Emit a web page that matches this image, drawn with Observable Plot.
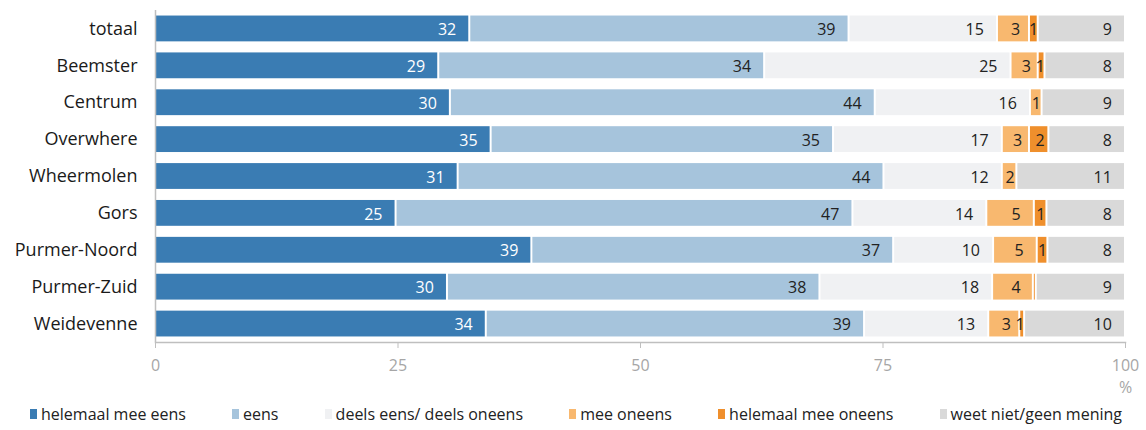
<!DOCTYPE html>
<html><head><meta charset="utf-8">
<script src="https://cdn.jsdelivr.net/npm/d3@7"></script>
<script src="https://cdn.jsdelivr.net/npm/@observablehq/plot@0.6"></script>
<style>
body{margin:0;background:#fff;font-family:"Open Sans",sans-serif;}
#legend{display:flex;justify-content:space-between;padding:0 24px 0 30px;height:20px;align-items:center;font-size:16px;color:#222;}
.item{display:flex;align-items:center;white-space:nowrap;}
.sw{display:inline-block;width:7px;height:10px;margin-right:4px;}
</style></head><body><div id="chart"></div><div id="legend"></div>
<script>
const categories = ["totaal","Beemster","Centrum","Overwhere","Wheermolen","Gors","Purmer-Noord","Purmer-Zuid","Weidevenne"];
const series = ["helemaal mee eens","eens","deels eens/ deels oneens","mee oneens","helemaal mee oneens","weet niet/geen mening"];
const colors = ["#3a7cb3","#a6c4dc","#f0f1f3","#f8b86f","#ef8f2c","#d9d9d9"];
const helemaalMeeEens   = [32.4, 29.2, 30.4, 34.6, 31.2, 24.8, 38.8, 30.1, 34.1];
const eens              = [39.1, 33.6, 43.8, 35.3, 43.9, 47.1, 37.3, 38.4, 39.0];
const deelsEens         = [15.3, 25.4, 16.0, 17.4, 12.2, 13.8, 10.3, 17.8, 12.8];
const meeOneens         = [3.3, 2.8, 1.2, 2.8, 1.5, 4.9, 4.5, 4.2, 3.2];
const helemaalMeeOneens = [0.9, 0.7, 0.0, 2.0, 0.0, 1.3, 1.1, 0.3, 0.5];
const weetNiet          = [9.0, 8.3, 8.6, 7.9, 11.2, 8.1, 8.0, 9.2, 10.4];
const xTicks = [0, 25, 50, 75, 100];

const seriesValues = [helemaalMeeEens, eens, deelsEens, meeOneens, helemaalMeeOneens, weetNiet];
const data = [];
categories.forEach((cat, i) => {
  let acc = 0;
  seriesValues.forEach((vals, j) => {
    const v = vals[i];
    data.push({cat, series: series[j], j, value: v, x1: acc, x2: acc + v});
    acc += v;
  });
});
const shown = data.filter(d => d.value > 0);
const labeled = data.filter(d => d.value >= 0.5);

const chart = Plot.plot({
  width: 1146,
  height: 404,
  marginLeft: 155,
  marginRight: 21,
  marginTop: 10,
  marginBottom: 62,
  style: {fontFamily: "'Open Sans', sans-serif", fontSize: "16px", background: "white", color: "#222"},
  x: {domain: [0, 100], ticks: xTicks},
  y: {domain: categories, paddingInner: 0.3, paddingOuter: 0.15, round: false},
  color: {domain: series, range: colors},
  marks: [
    Plot.barX(shown, {x1: "x1", x2: "x2", y: "cat", fill: "series", insetLeft: 1, insetRight: 1}),
    Plot.text(labeled, {
      x: d => d.x2 - Math.max(0, Math.min(1.4, (d.value - 0.9) * 0.4)),
      y: "cat",
      text: d => String(Math.round(d.value)),
      textAnchor: "end",
      dy: 1,
      fontSize: 16,
      fill: d => d.j === 0 ? "white" : "#222"
    }),
    Plot.ruleX([0], {stroke: "#bfbfbf", strokeWidth: 1.5}),
    Plot.frame({anchor: "bottom", stroke: "#bfbfbf", strokeWidth: 1.5}),
    Plot.axisX({ticks: xTicks, tickSize: 6, text: null, stroke: "#bfbfbf", label: null}),
    Plot.axisX({ticks: xTicks, tickSize: 0, tickPadding: 17, fill: "#a6a6a6", fontSize: 16, label: null}),
    Plot.text(["%"], {x: () => xTicks[xTicks.length - 1], frameAnchor: "bottom", dy: 50, fill: "#a6a6a6", fontSize: 16}),
    Plot.axisY({tickSize: 0, tickPadding: 18, fontSize: 18, fill: "#1a1a1a", label: null})
  ]
});
document.getElementById("chart").appendChild(chart);

const legend = document.getElementById("legend");
series.forEach((s, i) => {
  const item = document.createElement("span");
  item.className = "item";
  const sw = document.createElement("span");
  sw.className = "sw";
  sw.style.background = colors[i];
  item.appendChild(sw);
  item.appendChild(document.createTextNode(s));
  legend.appendChild(item);
});
</script>
</body></html>
